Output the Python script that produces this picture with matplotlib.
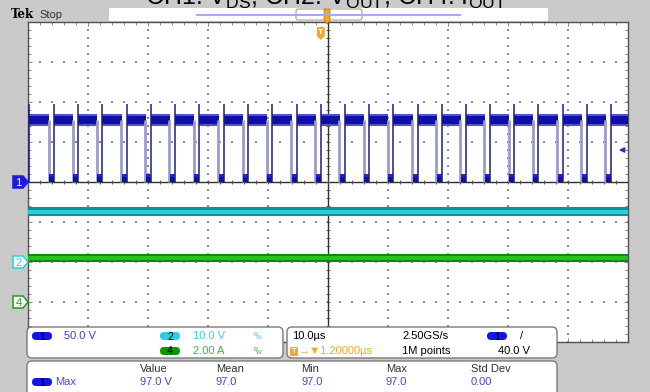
import numpy as np
import matplotlib.pyplot as plt
from matplotlib.patches import FancyBboxPatch, Polygon, Rectangle

plt.rcParams['font.family'] = ['Liberation Sans', 'DejaVu Sans']

# channel 1 (V_DS) edges, in us (0 = screen centre)
rise_us = [-49.78, -45.62, -41.62, -37.62, -33.55, -29.5, -25.5, -21.45, -17.38,
           -13.28, -9.28, -5.22, -1.22, 2.83, 6.88, 10.88, 14.95, 18.95, 22.95,
           27.0, 31.05, 35.05, 39.12, 43.12, 47.17]
fall_us = [-46.45, -42.45, -38.45, -34.38, -30.33, -26.33, -22.28, -18.21,
           -14.11, -10.11, -6.05, -2.05, 2.0, 6.05, 10.05, 14.12, 18.12, 22.12,
           26.17, 30.22, 34.22, 38.29, 42.29, 46.34]

v_high = 77.5      # plateau, V
v_band = 4.5       # dense noise half width, V
v_halo = 7.0       # outer noise half width, V
v_spike = 97.0     # turn-on overshoot, V
v_low = 10.5       # top of the on-state ringing, V
v_out = 12.6       # channel 2, V
i_out = 2.2        # channel 4, A

ch_label = ['1', '2', '4']
ch_scale = [50.0, 10.0, 2.0]
ch_pos = [0.0, -2.0, -3.0]
trig_level = 40.0
trig_us = -1.2

panel_scales = ['50.0 V', '10.0 V', '2.00 A']
time_info = ['10.0\u00b5s', '2.50GS/s', '1.20000\u00b5s', '1M points', '40.0 V']
meas_head = ['Value', 'Mean', 'Min', 'Max', 'Std Dev']
meas_vals = ['97.0 V', '97.0', '97.0', '97.0', '0.00']

W, H = 650, 392
GX0, GY0, GW, GH = 28, 22, 600, 320
BLUE = '#0f0fa8'
CYAN = '#22d3db'
GREEN = '#22c422'
ORANGE = '#f5a623'

fig = plt.figure(figsize=(W / 100, H / 100), dpi=100)
fig.patch.set_facecolor('#cacaca')

ax = fig.add_axes([GX0 / W, 1 - (GY0 + GH) / H, GW / W, GH / H])
ax.set_xlim(-50, 50)
ax.set_ylim(-4, 4)
ax.set_facecolor('white')
for s in ax.spines.values():
    s.set_color('#505050')
    s.set_linewidth(1)
ax.set_xticks(np.arange(-50, 51, 10))
ax.set_xticks(np.arange(-50, 50.1, 2), minor=True)
ax.set_yticks(np.arange(-4, 4.1, 1))
ax.set_yticks(np.arange(-4, 4.01, 0.2), minor=True)
ax.tick_params(which='both', direction='in', top=True, right=True,
               labelbottom=False, labelleft=False, color='#888888', width=0.7)
ax.tick_params(which='major', length=3)
ax.tick_params(which='minor', length=2)

# dotted graticule
dy = np.arange(-4, 4.01, 0.2)
dx = np.arange(-50, 50.1, 2)
for x in range(-40, 41, 10):
    if x != 0:
        ax.scatter(np.full(len(dy), x), dy, s=0.7, marker='s', color='#8a8a8a', lw=0)
for y in range(-3, 4):
    if y != 0:
        ax.scatter(dx, np.full(len(dx), y), s=0.7, marker='s', color='#8a8a8a', lw=0)
ax.axhline(0, color='#303030', lw=1, zorder=2)
ax.axvline(0, color='#303030', lw=1, zorder=2)
ax.scatter(dx, np.zeros(len(dx)), marker='|', s=10, color='#505050', lw=0.7, zorder=2)
ax.scatter(np.zeros(len(dy)), dy, marker='_', s=10, color='#505050', lw=0.7, zorder=2)

def d1(v):
    return v / ch_scale[0] + ch_pos[0]

# channel 1: plateaus, on-state blocks and edges
highs = list(zip(rise_us[:-1], fall_us)) + [(rise_us[-1], 50)]
lows = [(-50, rise_us[0])] + list(zip(fall_us, rise_us[1:]))
for a, b in highs:
    ax.fill_between([a, b], d1(v_high - v_halo), d1(v_high + v_halo),
                    color='#5252c8', lw=0, zorder=3)
    ax.fill_between([a, b], d1(v_high - v_band), d1(v_high + v_band),
                    color=BLUE, lw=0, zorder=3)
ax.vlines(np.array(fall_us) - 0.1, d1(0), d1(v_high), color='#9a9ad2', lw=2, zorder=3)
for a, b in lows:
    ax.fill_between([a, b], d1(0), d1(v_low), color=BLUE, lw=0, zorder=4)
    ax.fill_between([a, b], d1(v_low * 0.55), d1(v_low), color='#2626c4', lw=0, zorder=4)
ax.vlines(rise_us, d1(0), d1(v_spike), color='#1c1c80', lw=1.1, zorder=4)

# channel 2 and channel 4 as noisy bands
y2 = v_out / ch_scale[1] + ch_pos[1]
ax.fill_between([-50, 50], y2 - 0.11, y2 + 0.11, color='#12909a', lw=0, zorder=3)
ax.fill_between([-50, 50], y2 - 0.05, y2 + 0.05, color=CYAN, lw=0, zorder=3)
y4 = i_out / ch_scale[2] + ch_pos[2]
ax.fill_between([-50, 50], y4 - 0.11, y4 + 0.11, color='#0e8a0e', lw=0, zorder=3)
ax.fill_between([-50, 50], y4 - 0.05, y4 + 0.05, color=GREEN, lw=0, zorder=3)

# overlay in screen pixels
ov = fig.add_axes([0, 0, 1, 1], zorder=5)
ov.set_xlim(0, W)
ov.set_ylim(H, 0)
ov.axis('off')
ov.patch.set_alpha(0)

def py(div):
    return GY0 + GH / 2 - div * GH / 8

def px(us):
    return GX0 + GW / 2 + us * GW / 100

# title (cut off by the top edge in the original)
ov.text(326, 5, r'CH1: V$_\mathregular{DS}$, CH2: V$_\mathregular{OUT}$, CH4: I$_\mathregular{OUT}$',
        fontsize=18, ha='center', va='baseline', color='black')

ov.text(11, 18, 'Tek', family='DejaVu Serif', weight='bold', fontsize=8.5, va='baseline')
ov.text(39, 18, 'Stop', fontsize=8, va='baseline', color='#303030')
ov.add_patch(Rectangle((109, 8), 439, 13, fc='white', ec='none', zorder=0))
ov.plot([197, 460], [15, 15], color='#a8a8f0', lw=1.5)
ov.add_patch(FancyBboxPatch((296, 9), 66, 11, boxstyle='round,pad=0,rounding_size=2',
                            fc='none', ec='#a0a0a0', lw=0.8))
ov.add_patch(Polygon([(324, 9), (330, 9), (330, 20), (327, 24), (324, 20)], closed=True,
                     fc=ORANGE, ec='#c07000', lw=0.5))

# trigger point marker
tx = px(trig_us)
ov.add_patch(FancyBboxPatch((tx - 4, 27), 8, 10, boxstyle='round,pad=0,rounding_size=1.5',
                            fc=ORANGE, ec='none'))
ov.add_patch(Polygon([(tx - 3, 37), (tx + 3, 37), (tx, 40)], closed=True, fc=ORANGE, ec='none'))
ov.text(tx, 32, 'T', color='white', fontsize=6, ha='center', va='center', weight='bold')

# trigger level arrow
ty = py(d1(trig_level))
ov.annotate('', xy=(616, ty), xytext=(627, ty),
            arrowprops=dict(arrowstyle='-|>', color='#2a2ae6', lw=1.2, mutation_scale=7))

# channel ground markers
mk_style = [('#1a1ae0', '#1a1ae0', 'white'),
            ('white', CYAN, CYAN),
            ('white', '#1c9c1c', '#1c9c1c')]
for lab, pos, (fc, ec, tc) in zip(ch_label, ch_pos, mk_style):
    y = py(pos)
    ov.add_patch(Polygon([(13, y - 6), (23, y - 6), (28, y), (23, y + 6), (13, y + 6)],
                         closed=True, fc=fc, ec=ec, lw=1.1))
    ov.text(18.5, y + 0.5, lab, color=tc, fontsize=8, ha='center', va='center')

# info panels
for x0, y0, w, h in [(27, 327, 256, 31), (287, 327, 270, 31), (27, 361, 530, 40)]:
    ov.add_patch(FancyBboxPatch((x0, y0), w, h, boxstyle='round,pad=0,rounding_size=5',
                                fc='white', ec='#7a7a7a', lw=1))

def pill(x, y, lab, fc):
    ov.add_patch(FancyBboxPatch((x, y - 4), 20, 8, boxstyle='round,pad=0,rounding_size=4',
                                fc=fc, ec='none'))
    ov.text(x + 10, y + 0.5, lab, fontsize=7.5, ha='center', va='center', color='black')

fs = 8
pill(32, 336, ch_label[0], '#1414e6')
ov.text(64, 336, panel_scales[0], fontsize=fs, va='center', color='#3c3cdc')
pill(160, 336, ch_label[1], '#28d2dc')
ov.text(193, 336, panel_scales[1], fontsize=fs, va='center', color='#3cd2dc')
pill(160, 351, ch_label[2], '#0a960a')
ov.text(193, 351, panel_scales[2], fontsize=fs, va='center', color='#3cb43c')
for y, c in [(336, '#3cd2dc'), (351, '#3cb43c')]:
    ov.text(253, y - 1.5, 'B', fontsize=4.5, va='center', color=c)
    ov.text(256, y + 1.5, 'W', fontsize=4.5, va='center', color=c)

ov.text(292, 336, time_info[0], fontsize=fs, va='center', color='black')
ov.text(402, 336, time_info[1], fontsize=fs, va='center', color='black')
pill(487, 336, ch_label[0], '#1414e6')
ov.text(520, 336, '/', fontsize=fs, va='center', color='black')
ov.add_patch(FancyBboxPatch((290, 347), 8, 9, boxstyle='round,pad=0,rounding_size=1',
                            fc=ORANGE, ec='none'))
ov.text(294, 351.5, 'T', color='white', fontsize=5.5, ha='center', va='center', weight='bold')
ov.text(299, 351, '\u2192\u25bc' + time_info[2], fontsize=fs, va='center', color=ORANGE)
ov.text(402, 351, time_info[3], fontsize=fs, va='center', color='black')
ov.text(498, 351, time_info[4], fontsize=fs, va='center', color='black')

pill(32, 382, ch_label[0], '#1414e6')
ov.text(55, 382, 'Max', fontsize=fs, va='center', color='#4646e6')
for x, hd, v in zip([140, 216, 301, 386, 471], meas_head, meas_vals):
    ov.text(x, 369, hd, fontsize=fs, va='center', color='#303030')
    ov.text(x, 382, v, fontsize=fs, va='center', color='#4646e6')

fig.savefig('out.png', dpi=100)
